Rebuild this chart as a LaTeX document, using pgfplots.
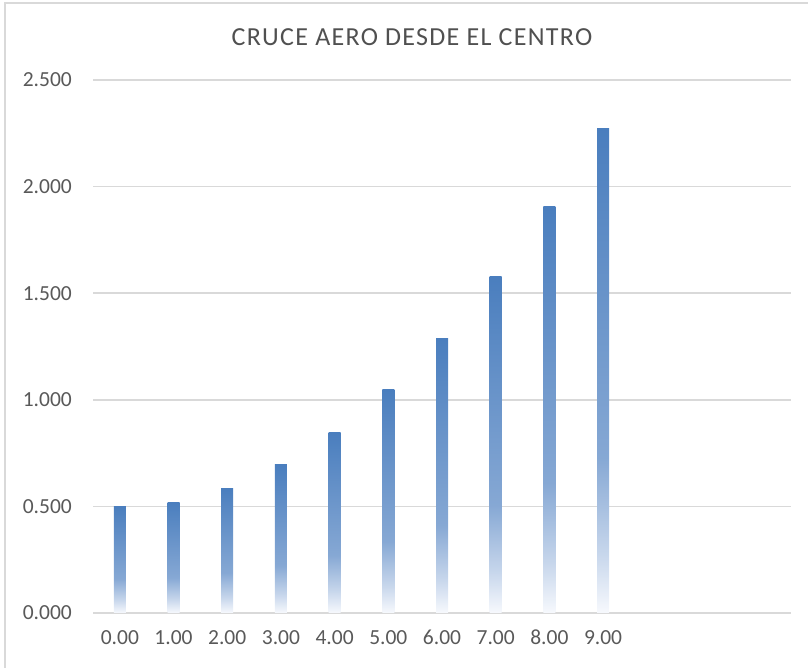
\documentclass[border=0pt]{standalone}
\usepackage{fontspec}
\setmainfont{Carlito}
\usepackage{pgfplots}
\pgfplotsset{compat=1.18}
\definecolor{txtgray}{HTML}{595959}
\definecolor{gridgray}{HTML}{D9D9D9}
\definecolor{framegray}{HTML}{D9D9D9}
\definecolor{bc0}{HTML}{F7F9FD}
\definecolor{bc1}{HTML}{C8D7EC}
\definecolor{bc2}{HTML}{86A8D4}
\definecolor{bc3}{HTML}{4A7EBE}
\pgfdeclareverticalshading{barshade}{100bp}{color(0bp)=(bc0); color(25bp)=(bc0); color(31bp)=(bc1); color(41bp)=(bc2); color(75bp)=(bc3); color(100bp)=(bc3)}
\pgfplotsset{gbar/.style={ybar, bar width=12pt, bar shift=0pt, draw=none, shading=barshade, forget plot}}
\begin{document}
\begin{tikzpicture}
\path[use as bounding box] (0,0) rectangle (808pt,668pt);
\draw[framegray, line width=1.5pt] (5pt,0) -- (5pt,665pt) -- (808pt,665pt);
\node[text=txtgray!90!black, font=\fontsize{26}{30}\selectfont\addfontfeature{LetterSpace=5}] at (412pt,631pt) {CRUCE AERO DESDE EL CENTRO};
\begin{axis}[
  at={(93pt,55pt)}, anchor=south west,
  scale only axis, width=698pt, height=533pt,
  xmin=-0.5, xmax=12.5, ymin=0, ymax=2.5,
  axis line style={draw=none},
  major tick length=0pt,
  ytick={0,0.5,1,1.5,2,2.5},
  xtick={0,1,2,3,4,5,6,7,8,9},
  xticklabels={0.00,1.00,2.00,3.00,4.00,5.00,6.00,7.00,8.00,9.00},
  ymajorgrids, grid style={gridgray, line width=1.5pt},
  /pgf/number format/.cd, fixed, fixed zerofill, precision=3, assume math mode=true,
  /pgfplots/.cd,
  ticklabel style={font=\fontsize{21.5}{24}\selectfont, text=txtgray},
  yticklabel style={inner sep=0pt, anchor=east, xshift=-21pt},
  xticklabel style={inner sep=0pt, anchor=north, yshift=-17pt},
  clip=false,
]
\addplot[gbar] coordinates {(0,0.500)};
\addplot[gbar] coordinates {(1,0.520)};
\addplot[gbar] coordinates {(2,0.586)};
\addplot[gbar] coordinates {(3,0.695)};
\addplot[gbar] coordinates {(4,0.845)};
\addplot[gbar] coordinates {(5,1.047)};
\addplot[gbar] coordinates {(6,1.286)};
\addplot[gbar] coordinates {(7,1.577)};
\addplot[gbar] coordinates {(8,1.905)};
\addplot[gbar] coordinates {(9,2.274)};
\end{axis}
\end{tikzpicture}
\end{document}
